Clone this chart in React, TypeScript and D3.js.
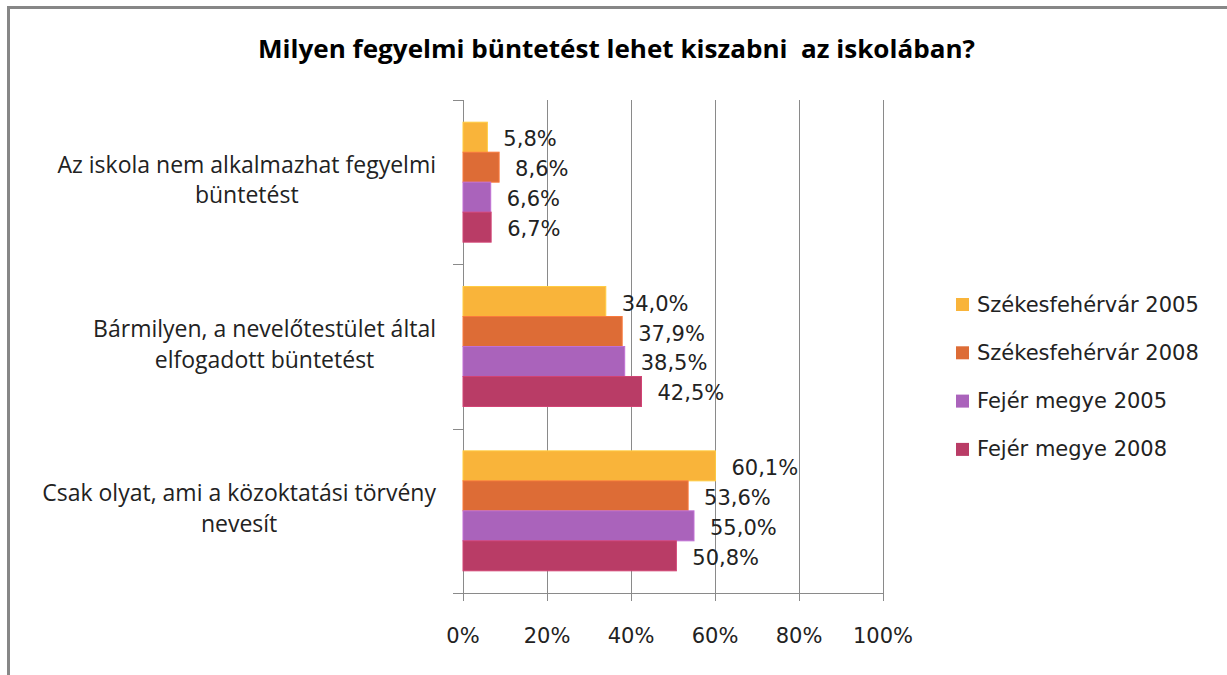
import React, { useEffect, useRef } from "react";
import * as d3 from "d3";

const title = "Milyen fegyelmi büntetést lehet kiszabni  az iskolában?";
const categories = [
  ["Az iskola nem alkalmazhat fegyelmi", "büntetést"],
  ["Bármilyen, a nevelőtestület által", "elfogadott büntetést"],
  ["Csak olyat, ami a közoktatási törvény", "nevesít"],
];
const seriesNames = [
  "Székesfehérvár 2005",
  "Székesfehérvár 2008",
  "Fejér megye 2005",
  "Fejér megye 2008",
];
const seriesColors = ["#F9B43A", "#DD6C36", "#AA63BB", "#B93C66"];
// values[category][series]
const values = [
  [5.8, 8.6, 6.6, 6.7],
  [34.0, 37.9, 38.5, 42.5],
  [60.1, 53.6, 55.0, 50.8],
];
const xTicks = [0, 20, 40, 60, 80, 100];

const W = 1227;
const H = 675;

export default function App() {
  const ref = useRef<SVGSVGElement | null>(null);

  useEffect(() => {
    const svg = d3.select(ref.current);
    svg.selectAll("*").remove();

    const left = 463, right = 883, top = 100, bottom = 593;
    const grid = "#8a8a8a";
    const valFont = "'DejaVu Sans', Verdana, sans-serif";
    const catFont = "'Open Sans', 'Noto Sans', sans-serif";

    // outer border
    svg.append("line").attr("x1", 8.5).attr("x2", 8.5).attr("y1", 6).attr("y2", H)
      .attr("stroke", "#878787").attr("stroke-width", 3);
    svg.append("line").attr("x1", 7).attr("x2", W).attr("y1", 7.5).attr("y2", 7.5)
      .attr("stroke", "#878787").attr("stroke-width", 3);

    // title
    svg.append("text").attr("x", 616.5).attr("y", 58).attr("text-anchor", "middle")
      .attr("font-family", catFont).attr("font-weight", 700).attr("font-size", 25)
      .attr("fill", "#000").attr("textLength", 717).attr("lengthAdjust", "spacingAndGlyphs")
      .attr("xml:space", "preserve").style("white-space", "pre")
      .text(title);

    const x = d3.scaleLinear().domain([0, 100]).range([left, right]);
    const y0 = d3.scaleBand<number>().domain(categories.map((_, i) => i))
      .range([top, bottom]).paddingInner(0.27).paddingOuter(0.135);
    const y1 = d3.scaleBand<number>().domain(seriesNames.map((_, i) => i))
      .range([0, y0.bandwidth()]);
    const yCat = d3.scaleBand<number>().domain(categories.map((_, i) => i)).range([top, bottom]);

    // gridlines
    xTicks.slice(1).forEach((t) => {
      svg.append("line").attr("x1", x(t) + 0.5).attr("x2", x(t) + 0.5)
        .attr("y1", top).attr("y2", bottom + 8).attr("stroke", grid).attr("stroke-width", 1);
    });
    // y axis
    svg.append("line").attr("x1", left + 0.5).attr("x2", left + 0.5).attr("y1", top).attr("y2", bottom + 8)
      .attr("stroke", grid);
    const catEdges = [top, ...categories.map((_, i) => (yCat(i) as number) + yCat.bandwidth())];
    catEdges.forEach((e) => {
      svg.append("line").attr("x1", left - 10).attr("x2", left).attr("y1", Math.round(e) + 0.5)
        .attr("y2", Math.round(e) + 0.5).attr("stroke", grid);
    });
    // x axis
    svg.append("line").attr("x1", left - 10).attr("x2", right + 0.5).attr("y1", bottom + 0.5)
      .attr("y2", bottom + 0.5).attr("stroke", grid);

    // tick labels
    xTicks.forEach((t) => {
      svg.append("text").attr("x", x(t)).attr("y", 643).attr("text-anchor", "middle")
        .attr("font-family", valFont).attr("font-size", 21).attr("fill", "#222")
        .text(`${t}%`);
    });

    // bars
    values.forEach((row, ci) => {
      const g = svg.append("g").attr("transform", `translate(0,${y0(ci)})`);
      row.forEach((v, si) => {
        const yy = y1(si) as number;
        const c = d3.color(seriesColors[si])!;
        g.append("rect").attr("x", x(0)).attr("y", yy).attr("width", x(v) - x(0))
          .attr("height", y1.bandwidth()).attr("fill", seriesColors[si])
          .attr("stroke", c.brighter(0.35).toString()).attr("stroke-width", 1);
        g.append("text").attr("x", x(v) + 16).attr("y", yy + y1.bandwidth() / 2 + 9)
          .attr("font-family", valFont).attr("font-size", 21).attr("fill", "#222")
          .text(`${v.toFixed(1).replace(".", ",")}%`);
      });
    });

    // category labels
    const catRight = 436;
    categories.forEach((lines, ci) => {
      const center = (yCat(ci) as number) + yCat.bandwidth() / 2;
      const texts = lines.map((ln, li) =>
        svg.append("text").attr("y", center + (li === 0 ? -9.5 : 21))
          .attr("text-anchor", "middle").attr("font-family", catFont).attr("font-size", 23)
          .attr("fill", "#222").text(ln)
      );
      const maxW = d3.max(texts, (t) => (t.node() as SVGTextElement).getComputedTextLength()) || 0;
      texts.forEach((t) => t.attr("x", catRight - maxW / 2));
    });

    // legend
    seriesNames.forEach((name, si) => {
      const ty = 298 + si * 48.3;
      svg.append("rect").attr("x", 956).attr("y", ty).attr("width", 13).attr("height", 13)
        .attr("fill", seriesColors[si]);
      svg.append("text").attr("x", 977).attr("y", ty + 13.5).attr("font-family", valFont)
        .attr("font-size", 21).attr("fill", "#222").text(name);
    });
  }, []);

  return (
    <svg ref={ref} width={W} height={H}
      style={{ position: "absolute", left: 0, top: 0, background: "#fff" }} />
  );
}
